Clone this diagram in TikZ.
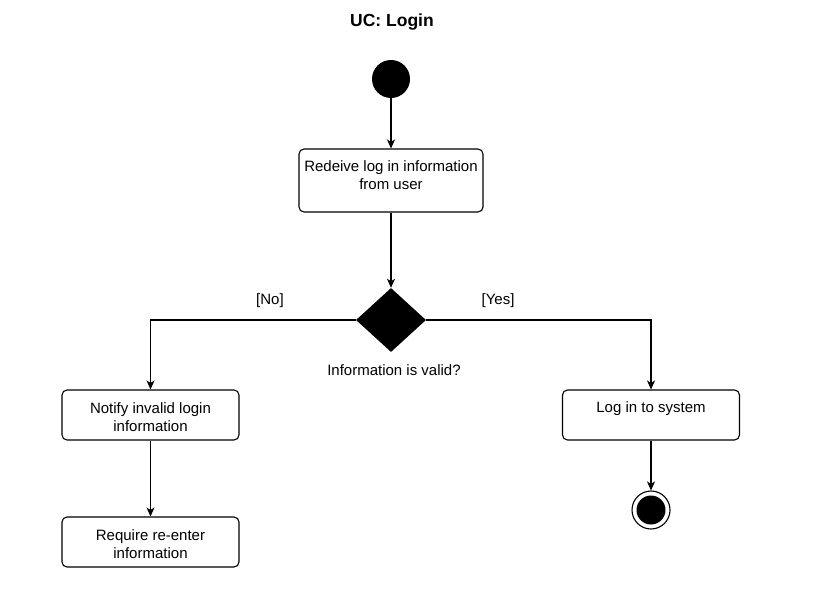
\documentclass[tikz,border=0pt]{standalone}
\usepackage{fontspec}
\setmainfont{Liberation Sans}
\usetikzlibrary{shapes.geometric,arrows.meta}
\begin{document}
\begin{tikzpicture}[x=1pt,y=-1pt,
  every node/.style={font=\fontsize{15}{18}\selectfont},
  actbox/.style={draw, rounded corners=5pt, line width=1.1pt, inner sep=0pt},
  lbl/.style={align=center, inner sep=0pt, font=\fontsize{15}{18}\selectfont},
  flow/.style={line width=1.1pt, -{Stealth[length=9pt,width=8pt,inset=2.5pt]}}]
\useasboundingbox (0,0) rectangle (814,601);
\node[font=\bfseries\fontsize{17.5}{20}\selectfont] (title) at (392,22.5) {UC: Login};
\node[circle, fill=black, minimum size=38pt, inner sep=0pt] (start) at (391,79) {};
\node[actbox, minimum width=184pt, minimum height=63pt,
  label={[lbl, yshift=5pt]center:{Redeive log in information\\from user}}] (recv) at (391,180.5) {};
\node[diamond, fill=black, minimum width=70pt, minimum height=64pt, inner sep=0pt] (dec) at (391,320) {};
\node[lbl] (nolbl) at (270,300.5) {[No]};
\node[lbl] (yeslbl) at (498,300.5) {[Yes]};
\node[lbl] (question) at (394,370) {Information is valid?};
\node[actbox, minimum width=177pt, minimum height=50pt,
  label={[lbl, yshift=-2pt]center:{Notify invalid login\\information}}] (notify) at (150.5,415) {};
\node[actbox, minimum width=177pt, minimum height=50pt,
  label={[lbl, yshift=-2pt]center:{Require re-enter\\information}}] (require) at (150.5,542) {};
\node[actbox, minimum width=177pt, minimum height=50pt,
  label={[lbl, yshift=6.5pt]center:{Log in to system}}] (login) at (651,415) {};
\node[circle, draw, line width=1.1pt, fill=white, minimum size=38pt, inner sep=0pt] (final) at (651,510) {};
\fill (final.center) circle (14.5pt);
\draw[flow] (start) -- (recv);
\draw[flow] (recv) -- (dec);
\draw[flow] (dec.west) -| (notify.north);
\draw[flow] (dec.east) -| (login.north);
\draw[flow] (notify) -- (require);
\draw[flow] (login) -- (final);
\end{tikzpicture}
\end{document}
